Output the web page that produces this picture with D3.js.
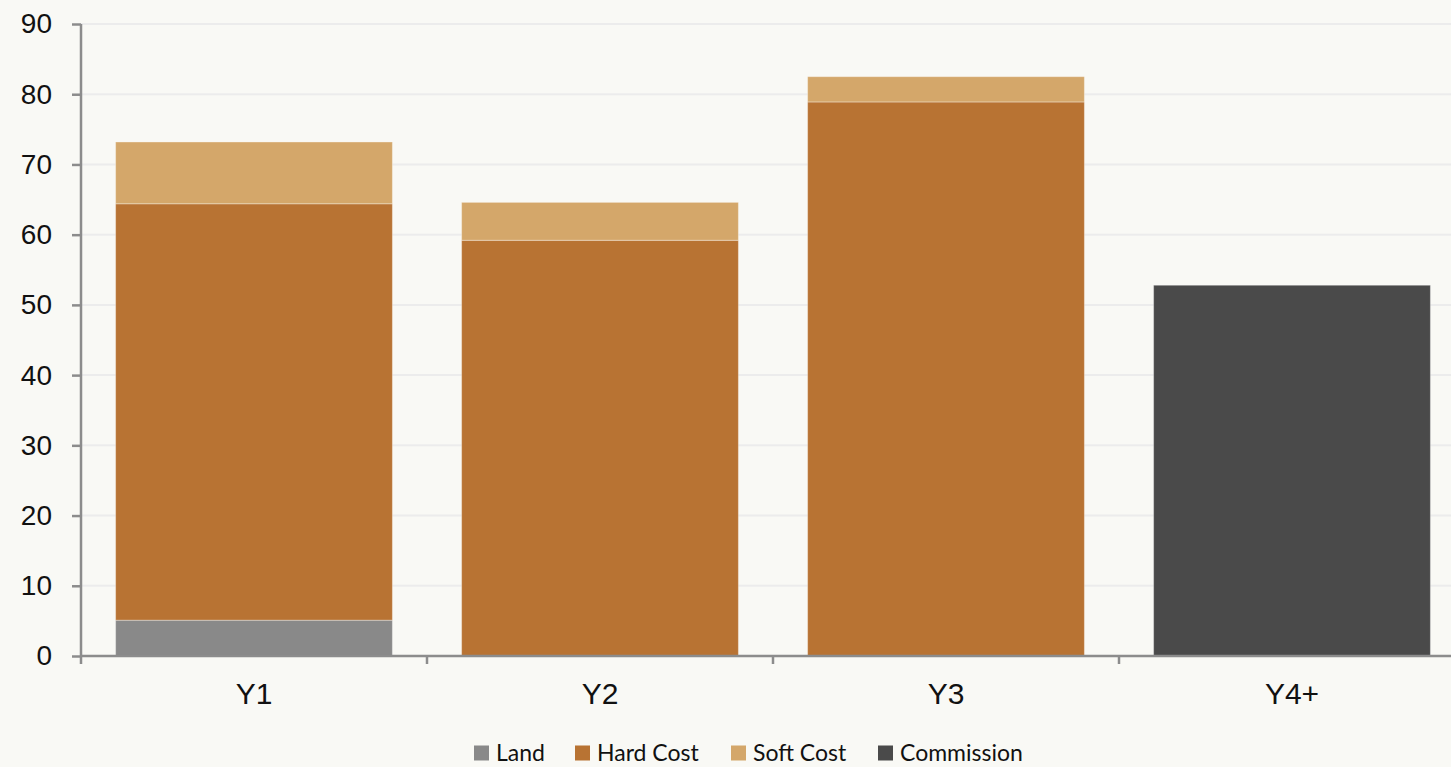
<!DOCTYPE html>
<html>
<head>
<meta charset="utf-8">
<script src="https://cdn.jsdelivr.net/npm/d3@7"></script>
<style>
  html, body { margin: 0; padding: 0; background: #f9f9f5; overflow: hidden; }
  svg { display: block; }
</style>
</head>
<body>
<svg id="chart" width="1451" height="767"></svg>
<script>
// Cost phasing by year, stacked by component
const categories = ["Y1", "Y2", "Y3", "Y4+"];
const seriesNames = ["Land", "Hard Cost", "Soft Cost", "Commission"];
const land       = [5.1, 0, 0, 0];
const hardCost   = [59.3, 59.2, 78.9, 0];
const softCost   = [8.8, 5.4, 3.6, 0];
const commission = [0, 0, 0, 52.8];
const yTicks = [0, 10, 20, 30, 40, 50, 60, 70, 80, 90];
const colors = ["#898989", "#b87333", "#d4a76a", "#4a4a4a"];

const rows = categories.map((c, i) => ({
  cat: c,
  "Land": land[i],
  "Hard Cost": hardCost[i],
  "Soft Cost": softCost[i],
  "Commission": commission[i]
}));

const svg = d3.select("#chart");
const margin = { left: 81, top: 24, right: -14, bottom: 111 };
const W = 1451, H = 767;
const x0 = margin.left, x1 = W - margin.right;
const yTop = margin.top, yBottom = H - margin.bottom;

const x = d3.scaleBand().domain(categories).range([x0, x1]).paddingInner(0.2).paddingOuter(0.1);
const y = d3.scaleLinear().domain([0, 90]).range([yBottom, yTop]);

// grid lines
svg.append("g").selectAll("line").data(yTicks.filter(t => t > 0)).join("line")
  .attr("x1", x0).attr("x2", W)
  .attr("y1", d => y(d)).attr("y2", d => y(d))
  .attr("stroke", "#ececec").attr("stroke-width", 2);

// stacked bars
const stack = d3.stack().keys(seriesNames)(rows);
svg.append("g").selectAll("g").data(stack).join("g")
  .attr("fill", (d, i) => colors[i])
  .selectAll("rect").data(d => d.filter(p => p[1] - p[0] > 0)).join("rect")
  .attr("x", d => x(d.data.cat))
  .attr("width", x.bandwidth())
  .attr("y", d => y(d[1]))
  .attr("height", d => y(d[0]) - y(d[1]))
  .attr("stroke", "rgba(255,255,255,0.35)")
  .attr("stroke-width", 1);

const axisFont = "'Liberation Sans', Arial, sans-serif";

// y axis
const yAxis = svg.append("g").attr("transform", `translate(${x0},0)`)
  .call(d3.axisLeft(y).tickValues(yTicks).tickSize(9).tickPadding(20).tickSizeOuter(0));
yAxis.select(".domain").attr("stroke", "#8c8c8c").attr("stroke-width", 2.5)
  .attr("d", `M0,${yTop}V${yBottom + 8}`);
yAxis.selectAll(".tick line").attr("stroke", "#8c8c8c").attr("stroke-width", 2.5);
yAxis.selectAll(".tick text").attr("fill", "#111")
  .style("font-family", axisFont).style("font-size", "28px");

// x axis
const xAxis = svg.append("g").attr("transform", `translate(0,${yBottom})`)
  .call(d3.axisBottom(x).tickSize(0).tickPadding(27));
xAxis.select(".domain").attr("stroke", "#8c8c8c").attr("stroke-width", 2.5)
  .attr("d", `M${x0},0H${W}`);
xAxis.selectAll(".tick text").attr("fill", "#111")
  .style("font-family", axisFont).style("font-size", "30px");
// category separators
const step = x.step();
svg.append("g").selectAll("line").data(categories.slice(1)).join("line")
  .attr("x1", d => x(d) - x.paddingInner() * step / 2)
  .attr("x2", d => x(d) - x.paddingInner() * step / 2)
  .attr("y1", yBottom).attr("y2", yBottom + 8)
  .attr("stroke", "#8c8c8c").attr("stroke-width", 2.5);

// legend
const legendX = [474, 575, 731, 878];
const lg = svg.append("g").attr("transform", "translate(0,753)");
const items = lg.selectAll("g").data(seriesNames).join("g")
  .attr("transform", (d, i) => `translate(${legendX[i]},0)`);
items.append("rect").attr("x", 0).attr("y", -7.5).attr("width", 15).attr("height", 15)
  .attr("fill", (d, i) => colors[i]);
items.append("text").attr("x", 22).attr("y", 0).attr("dy", "0.36em")
  .attr("fill", "#111")
  .style("font-family", "Lato, 'Open Sans', sans-serif").style("font-size", "23px")
  .text(d => d);
</script>
</body>
</html>
